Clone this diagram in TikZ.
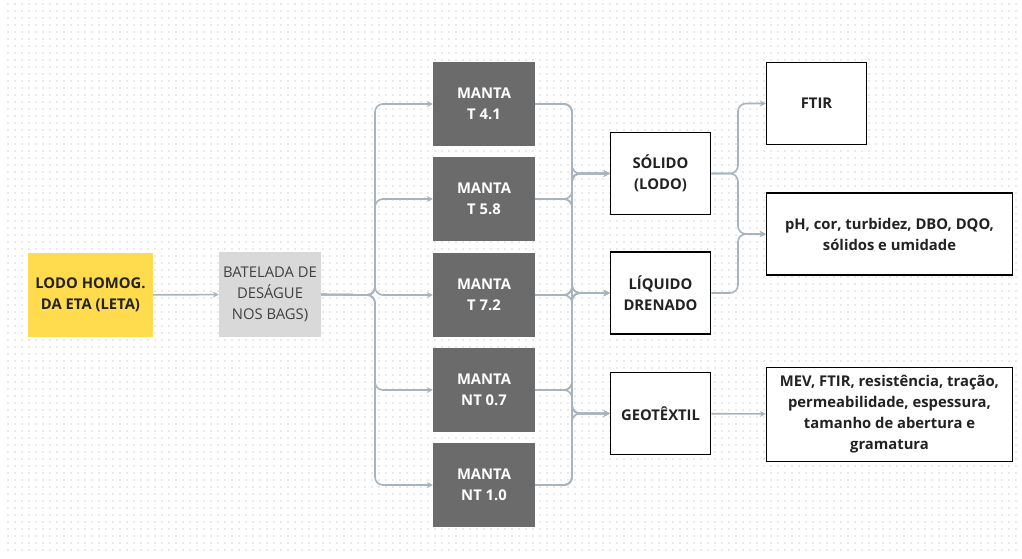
\documentclass[tikz,border=0pt]{standalone}
\usepackage{fontspec}
\setmainfont{Open Sans}
\usetikzlibrary{arrows.meta}
\definecolor{lodoc}{HTML}{FFDB4D}
\definecolor{batc}{HTML}{D9D9D9}
\definecolor{mantac}{HTML}{6B6B6B}
\definecolor{linec}{HTML}{A8B4BD}
\definecolor{dotc}{HTML}{EAEAEA}
\definecolor{txtc}{HTML}{222222}
\tikzset{
  base/.style={inner sep=1pt, align=center, font=\fontsize{14.8}{21}\selectfont\bfseries, text=txtc},
  lodobox/.style={base, fill=lodoc, minimum width=125pt, minimum height=84pt},
  batbox/.style={base, fill=batc, minimum width=102pt, minimum height=85pt, font=\fontsize{14.8}{21}\selectfont, text=black!75},
  mantabox/.style={base, fill=mantac, text=white, minimum width=102pt, minimum height=84pt},
  outbox/.style={base, draw=black, line width=1.5pt, fill=white, minimum width=100pt, minimum height=82pt},
  conn/.style={draw=linec, line width=1.6pt, rounded corners=8pt, -{Stealth[length=6pt,width=6pt]}},
  dotrow/.style={draw=dotc, line width=1.4pt, dash pattern=on 1.4pt off 5.6pt},
}
\begin{document}
\begin{tikzpicture}[x=1pt,y=-1pt]
\useasboundingbox (0,0) rectangle (1022,559);
\fill[white] (0,0) rectangle (1022,559);
\foreach \yy in {4,11,...,556}{
  \draw[dotrow] (7.3,\yy) -- (1022,\yy);
}
\node[lodobox] (lodo) at (90.5,295) {LODO HOMOG.\\DA ETA (LETA)};
\node[batbox] (bat) at (270,294.5) {BATELADA DE\\DESÁGUE\\NOS BAGS)};
\node[mantabox] (m1) at (484,104) {MANTA\\T 4.1};
\node[mantabox] (m2) at (484,199) {MANTA\\T 5.8};
\node[mantabox] (m3) at (484,295) {MANTA\\T 7.2};
\node[mantabox] (m4) at (484,390) {MANTA\\NT 0.7};
\node[mantabox] (m5) at (484,485) {MANTA\\NT 1.0};
\node[outbox] (sol) at (660.5,173.5) {SÓLIDO\\(LODO)};
\node[outbox] (liq) at (660.5,293) {LÍQUIDO\\DRENADO};
\node[outbox] (geo) at (660.5,413.5) {GEOTÊXTIL};
\node[outbox] (ftir) at (816.5,103.5) {FTIR};
\node[outbox, minimum width=246pt] (ph) at (889.5,234) {pH, cor, turbidez, DBO, DQO,\\sólidos e umidade};
\node[outbox, minimum width=246pt, minimum height=94pt] (mev) at (889.5,414.5) {MEV, FTIR, resistência, tração,\\permeabilidade, espessura,\\tamanho de abertura e\\gramatura};
\coordinate (jl) at (375,295);
\coordinate (bus) at (572,0);
\coordinate (jr) at (738,0);
\draw[conn] (lodo) -- (bat);
\foreach \m in {m1,m2,m3,m4,m5}{
  \draw[conn] (bat.east) -- (jl) |- (\m.west);
}
\foreach \m in {m1,m2,m3,m4,m5}{
  \foreach \t in {sol,liq,geo}{
    \draw[conn] (\m.east) -- (\m.east -| bus) |- (\t.west);
  }
}
\draw[conn] (sol.east) -- (sol.east -| jr) |- (ftir.west);
\draw[conn] (sol.east) -- (sol.east -| jr) |- (ph.west);
\draw[conn] (liq.east) -- (liq.east -| jr) |- (ph.west);
\draw[conn] (geo) -- (mev);
\end{tikzpicture}
\end{document}
